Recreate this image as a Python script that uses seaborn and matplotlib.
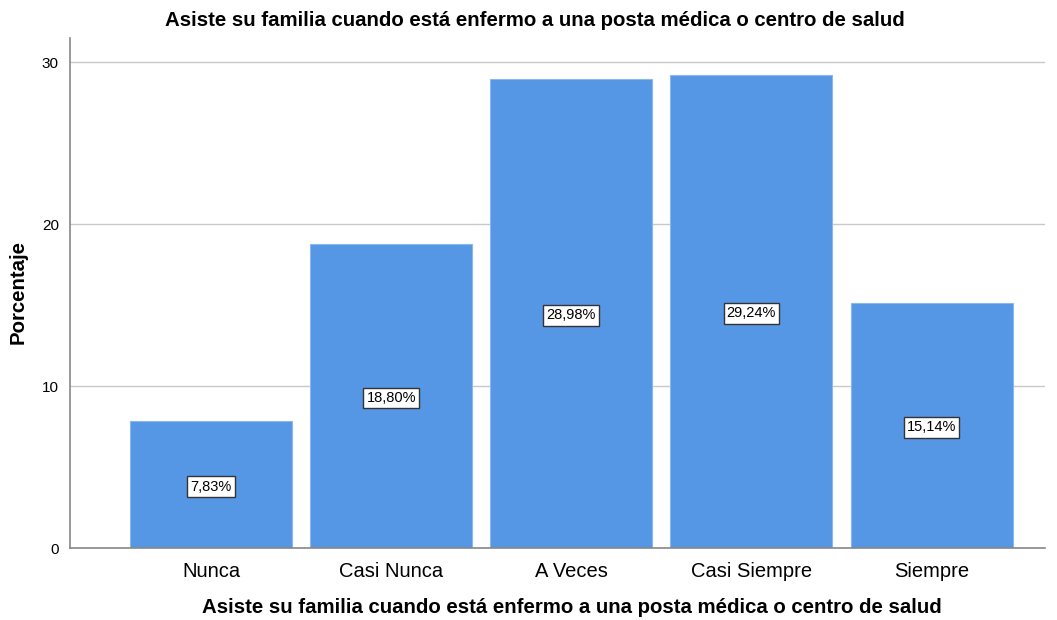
import matplotlib
matplotlib.use("Agg")
import matplotlib.pyplot as plt
import matplotlib.transforms as mtransforms
import seaborn as sns
import pandas as pd

categories = ["Nunca", "Casi Nunca", "A Veces", "Casi Siempre", "Siempre"]
values = [7.83, 18.80, 28.98, 29.24, 15.14]
labels = ["7,83%", "18,80%", "28,98%", "29,24%", "15,14%"]
title = "Asiste su familia cuando está enfermo a una posta médica o centro de salud"

sns.set_theme(style="white")
plt.rcParams['font.family'] = ['Liberation Sans', 'DejaVu Sans']
plt.rcParams['text.color'] = 'black'
plt.rcParams['axes.labelcolor'] = 'black'
plt.rcParams['xtick.color'] = 'black'
plt.rcParams['ytick.color'] = 'black'

df = pd.DataFrame({"cat": categories, "val": values})
fig = plt.figure(figsize=(10.57, 6.2), dpi=100)
ax = fig.add_axes([0.0662, 0.1161, 0.9225, 0.8226])
ax.set_axisbelow(True)
ax.yaxis.grid(True, color="#c8c8c8", linewidth=1)
sns.barplot(data=df, x="cat", y="val", color="#5596e5", saturation=1, width=0.9,
            edgecolor="#8ab8ee", linewidth=0.8, ax=ax)
off = mtransforms.offset_copy(ax.transData, fig=fig, x=0, y=-2, units="dots")
for i, (v, lab) in enumerate(zip(values, labels)):
    ax.text(i, v / 2, lab, ha="center", va="center", fontsize=10.5, color="black",
            transform=off,
            bbox=dict(boxstyle="square,pad=0.22", facecolor="white", edgecolor="#333333", linewidth=1))
ax.set_xlim(-0.783, 4.63)
ax.set_ylim(0, 31.5)
ax.set_yticks([0, 10, 20, 30])
ax.tick_params(axis="y", labelsize=11, length=0, pad=8)
ax.tick_params(axis="x", labelsize=14.5, length=0, pad=10)
for s in ["top", "right"]:
    ax.spines[s].set_visible(False)
for s in ["left", "bottom"]:
    ax.spines[s].set_color("#888888")
    ax.spines[s].set_linewidth(1.2)
ax.set_xlabel(title, fontsize=14.7, fontweight="bold")
ax.xaxis.set_label_coords(0.515, -0.1176)
ax.xaxis.label.set_va("center")
ax.set_ylabel("Porcentaje", fontsize=14.7, fontweight="bold")
ax.yaxis.set_label_coords(-0.0533, 0.502)
ax.yaxis.label.set_va("center")
fig.suptitle(title, x=535 / 1057, y=1 - 20 / 620, va="center", ha="center",
             fontsize=14.7, fontweight="bold")
fig.savefig("out.png", dpi=100)
